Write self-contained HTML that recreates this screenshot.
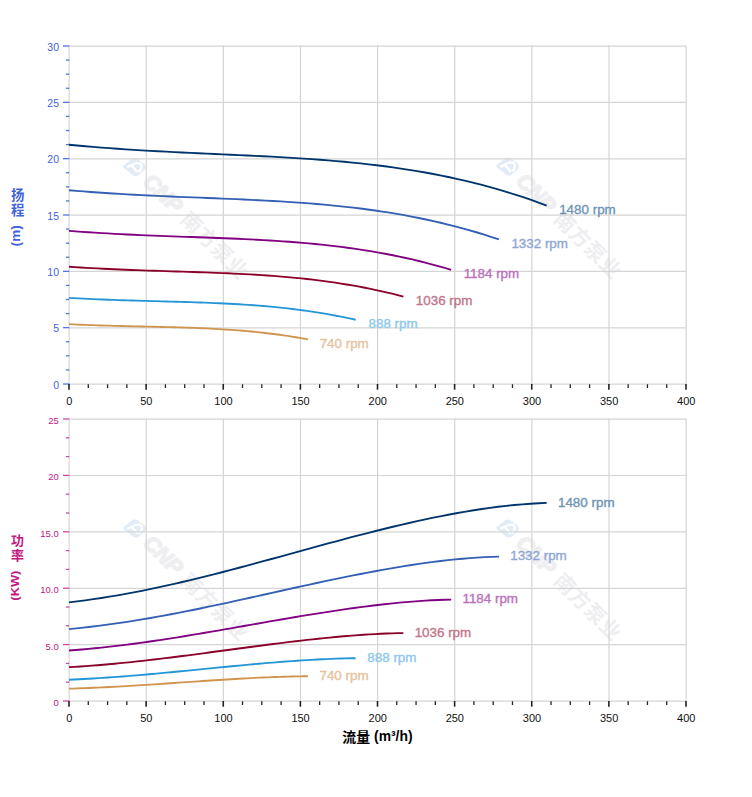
<!DOCTYPE html>
<html><head><meta charset="utf-8"><title>chart</title>
<style>html,body{margin:0;padding:0;background:#fff}svg{display:block}text{font-family:"Liberation Sans","Noto Sans CJK SC",sans-serif}</style></head><body>
<svg width="752" height="797" viewBox="0 0 752 797">
<rect width="752" height="797" fill="#fff"/>
<g transform="translate(134.0,167.0) rotate(45)">
</g>
<g transform="translate(0.25,0.00)">
<path d="M122,166.6 L131.3,159 Q134,157.3 137,158.9 L143.6,163.4 Q146.6,166.6 144.4,169.8 L138,175.2 Q135,177 132.2,175 Z" fill="#e1ecf7"/>
<g fill="none" stroke="#fff" stroke-width="2.4" stroke-linecap="butt"><path d="M126.8,167.3 L133.8,164"/><path d="M131.2,165.2 L137.2,172.3"/><path d="M134,163.7 Q141.6,161.8 141.2,166.6 Q141,170.2 138.3,171.8"/></g>
</g>
<g transform="translate(134.0,167.0) rotate(45)">
<text x="16.5" y="5.6" font-size="21.5" font-weight="bold" font-style="italic" fill="#efeff2" stroke="#efeff2" stroke-width="1.7" stroke-linejoin="round">CNP</text>
<text x="69.7" y="5.8" font-size="20.6" font-weight="bold" letter-spacing="0.8" fill="#eeeef1">南方泵业</text>
</g>
<g transform="translate(507.3,166.5) rotate(45)">
</g>
<g transform="translate(373.55,-0.50)">
<path d="M122,166.6 L131.3,159 Q134,157.3 137,158.9 L143.6,163.4 Q146.6,166.6 144.4,169.8 L138,175.2 Q135,177 132.2,175 Z" fill="#e1ecf7"/>
<g fill="none" stroke="#fff" stroke-width="2.4" stroke-linecap="butt"><path d="M126.8,167.3 L133.8,164"/><path d="M131.2,165.2 L137.2,172.3"/><path d="M134,163.7 Q141.6,161.8 141.2,166.6 Q141,170.2 138.3,171.8"/></g>
</g>
<g transform="translate(507.3,166.5) rotate(45)">
<text x="16.5" y="5.6" font-size="21.5" font-weight="bold" font-style="italic" fill="#efeff2" stroke="#efeff2" stroke-width="1.7" stroke-linejoin="round">CNP</text>
<text x="69.7" y="5.8" font-size="20.6" font-weight="bold" letter-spacing="0.8" fill="#eeeef1">南方泵业</text>
</g>
<g transform="translate(134.3,528.5) rotate(45)">
</g>
<g transform="translate(0.55,361.50)">
<path d="M122,166.6 L131.3,159 Q134,157.3 137,158.9 L143.6,163.4 Q146.6,166.6 144.4,169.8 L138,175.2 Q135,177 132.2,175 Z" fill="#e1ecf7"/>
<g fill="none" stroke="#fff" stroke-width="2.4" stroke-linecap="butt"><path d="M126.8,167.3 L133.8,164"/><path d="M131.2,165.2 L137.2,172.3"/><path d="M134,163.7 Q141.6,161.8 141.2,166.6 Q141,170.2 138.3,171.8"/></g>
</g>
<g transform="translate(134.3,528.5) rotate(45)">
<text x="16.5" y="5.6" font-size="21.5" font-weight="bold" font-style="italic" fill="#efeff2" stroke="#efeff2" stroke-width="1.7" stroke-linejoin="round">CNP</text>
<text x="69.7" y="5.8" font-size="20.6" font-weight="bold" letter-spacing="0.8" fill="#eeeef1">南方泵业</text>
</g>
<g transform="translate(507.3,528.5) rotate(45)">
</g>
<g transform="translate(373.55,361.50)">
<path d="M122,166.6 L131.3,159 Q134,157.3 137,158.9 L143.6,163.4 Q146.6,166.6 144.4,169.8 L138,175.2 Q135,177 132.2,175 Z" fill="#e1ecf7"/>
<g fill="none" stroke="#fff" stroke-width="2.4" stroke-linecap="butt"><path d="M126.8,167.3 L133.8,164"/><path d="M131.2,165.2 L137.2,172.3"/><path d="M134,163.7 Q141.6,161.8 141.2,166.6 Q141,170.2 138.3,171.8"/></g>
</g>
<g transform="translate(507.3,528.5) rotate(45)">
<text x="16.5" y="5.6" font-size="21.5" font-weight="bold" font-style="italic" fill="#efeff2" stroke="#efeff2" stroke-width="1.7" stroke-linejoin="round">CNP</text>
<text x="69.7" y="5.8" font-size="20.6" font-weight="bold" letter-spacing="0.8" fill="#eeeef1">南方泵业</text>
</g>
<g stroke="#d5d5d5" stroke-width="1.2" fill="none" shape-rendering="auto">
<line x1="69.12" y1="45.50" x2="69.12" y2="384.70"/>
<line x1="69.12" y1="418.50" x2="69.12" y2="701.70"/>
<line x1="146.25" y1="45.50" x2="146.25" y2="384.70"/>
<line x1="146.25" y1="418.50" x2="146.25" y2="701.70"/>
<line x1="223.37" y1="45.50" x2="223.37" y2="384.70"/>
<line x1="223.37" y1="418.50" x2="223.37" y2="701.70"/>
<line x1="300.50" y1="45.50" x2="300.50" y2="384.70"/>
<line x1="300.50" y1="418.50" x2="300.50" y2="701.70"/>
<line x1="377.62" y1="45.50" x2="377.62" y2="384.70"/>
<line x1="377.62" y1="418.50" x2="377.62" y2="701.70"/>
<line x1="454.75" y1="45.50" x2="454.75" y2="384.70"/>
<line x1="454.75" y1="418.50" x2="454.75" y2="701.70"/>
<line x1="531.87" y1="45.50" x2="531.87" y2="384.70"/>
<line x1="531.87" y1="418.50" x2="531.87" y2="701.70"/>
<line x1="609.00" y1="45.50" x2="609.00" y2="384.70"/>
<line x1="609.00" y1="418.50" x2="609.00" y2="701.70"/>
<line x1="686.12" y1="45.50" x2="686.12" y2="384.70"/>
<line x1="686.12" y1="418.50" x2="686.12" y2="701.70"/>
<line x1="69.00" y1="384.12" x2="686.00" y2="384.12"/>
<line x1="69.00" y1="327.79" x2="686.00" y2="327.79"/>
<line x1="69.00" y1="271.45" x2="686.00" y2="271.45"/>
<line x1="69.00" y1="215.12" x2="686.00" y2="215.12"/>
<line x1="69.00" y1="158.79" x2="686.00" y2="158.79"/>
<line x1="69.00" y1="102.45" x2="686.00" y2="102.45"/>
<line x1="69.00" y1="46.12" x2="686.00" y2="46.12"/>
<line x1="69.00" y1="701.12" x2="686.00" y2="701.12"/>
<line x1="69.00" y1="644.72" x2="686.00" y2="644.72"/>
<line x1="69.00" y1="588.32" x2="686.00" y2="588.32"/>
<line x1="69.00" y1="531.92" x2="686.00" y2="531.92"/>
<line x1="69.00" y1="475.52" x2="686.00" y2="475.52"/>
<line x1="69.00" y1="419.12" x2="686.00" y2="419.12"/>
</g>
<g stroke="#4a6fe0" stroke-width="1.25">
<line x1="63.00" y1="384.00" x2="69.30" y2="384.00"/>
<line x1="66.00" y1="369.92" x2="69.30" y2="369.92"/>
<line x1="66.00" y1="355.83" x2="69.30" y2="355.83"/>
<line x1="66.00" y1="341.75" x2="69.30" y2="341.75"/>
<line x1="63.00" y1="327.67" x2="69.30" y2="327.67"/>
<line x1="66.00" y1="313.58" x2="69.30" y2="313.58"/>
<line x1="66.00" y1="299.50" x2="69.30" y2="299.50"/>
<line x1="66.00" y1="285.42" x2="69.30" y2="285.42"/>
<line x1="63.00" y1="271.33" x2="69.30" y2="271.33"/>
<line x1="66.00" y1="257.25" x2="69.30" y2="257.25"/>
<line x1="66.00" y1="243.17" x2="69.30" y2="243.17"/>
<line x1="66.00" y1="229.08" x2="69.30" y2="229.08"/>
<line x1="63.00" y1="215.00" x2="69.30" y2="215.00"/>
<line x1="66.00" y1="200.92" x2="69.30" y2="200.92"/>
<line x1="66.00" y1="186.83" x2="69.30" y2="186.83"/>
<line x1="66.00" y1="172.75" x2="69.30" y2="172.75"/>
<line x1="63.00" y1="158.67" x2="69.30" y2="158.67"/>
<line x1="66.00" y1="144.58" x2="69.30" y2="144.58"/>
<line x1="66.00" y1="130.50" x2="69.30" y2="130.50"/>
<line x1="66.00" y1="116.42" x2="69.30" y2="116.42"/>
<line x1="63.00" y1="102.33" x2="69.30" y2="102.33"/>
<line x1="66.00" y1="88.25" x2="69.30" y2="88.25"/>
<line x1="66.00" y1="74.17" x2="69.30" y2="74.17"/>
<line x1="66.00" y1="60.08" x2="69.30" y2="60.08"/>
<line x1="63.00" y1="46.00" x2="69.30" y2="46.00"/>
</g>
<g stroke="#d4419f" stroke-width="1.25">
<line x1="63.00" y1="701.00" x2="69.30" y2="701.00"/>
<line x1="66.00" y1="682.20" x2="69.30" y2="682.20"/>
<line x1="66.00" y1="663.40" x2="69.30" y2="663.40"/>
<line x1="63.00" y1="644.60" x2="69.30" y2="644.60"/>
<line x1="66.00" y1="625.80" x2="69.30" y2="625.80"/>
<line x1="66.00" y1="607.00" x2="69.30" y2="607.00"/>
<line x1="63.00" y1="588.20" x2="69.30" y2="588.20"/>
<line x1="66.00" y1="569.40" x2="69.30" y2="569.40"/>
<line x1="66.00" y1="550.60" x2="69.30" y2="550.60"/>
<line x1="63.00" y1="531.80" x2="69.30" y2="531.80"/>
<line x1="66.00" y1="513.00" x2="69.30" y2="513.00"/>
<line x1="66.00" y1="494.20" x2="69.30" y2="494.20"/>
<line x1="63.00" y1="475.40" x2="69.30" y2="475.40"/>
<line x1="66.00" y1="456.60" x2="69.30" y2="456.60"/>
<line x1="66.00" y1="437.80" x2="69.30" y2="437.80"/>
<line x1="63.00" y1="419.00" x2="69.30" y2="419.00"/>
</g>
<g stroke="#222">
<line x1="69.00" y1="384.00" x2="69.00" y2="389.70" stroke-width="1.6"/>
<line x1="88.28" y1="384.30" x2="88.28" y2="388.00" stroke-width="1.3"/>
<line x1="107.56" y1="384.30" x2="107.56" y2="388.00" stroke-width="1.3"/>
<line x1="126.84" y1="384.30" x2="126.84" y2="388.00" stroke-width="1.3"/>
<line x1="146.12" y1="384.00" x2="146.12" y2="389.70" stroke-width="1.6"/>
<line x1="165.41" y1="384.30" x2="165.41" y2="388.00" stroke-width="1.3"/>
<line x1="184.69" y1="384.30" x2="184.69" y2="388.00" stroke-width="1.3"/>
<line x1="203.97" y1="384.30" x2="203.97" y2="388.00" stroke-width="1.3"/>
<line x1="223.25" y1="384.00" x2="223.25" y2="389.70" stroke-width="1.6"/>
<line x1="242.53" y1="384.30" x2="242.53" y2="388.00" stroke-width="1.3"/>
<line x1="261.81" y1="384.30" x2="261.81" y2="388.00" stroke-width="1.3"/>
<line x1="281.09" y1="384.30" x2="281.09" y2="388.00" stroke-width="1.3"/>
<line x1="300.38" y1="384.00" x2="300.38" y2="389.70" stroke-width="1.6"/>
<line x1="319.66" y1="384.30" x2="319.66" y2="388.00" stroke-width="1.3"/>
<line x1="338.94" y1="384.30" x2="338.94" y2="388.00" stroke-width="1.3"/>
<line x1="358.22" y1="384.30" x2="358.22" y2="388.00" stroke-width="1.3"/>
<line x1="377.50" y1="384.00" x2="377.50" y2="389.70" stroke-width="1.6"/>
<line x1="396.78" y1="384.30" x2="396.78" y2="388.00" stroke-width="1.3"/>
<line x1="416.06" y1="384.30" x2="416.06" y2="388.00" stroke-width="1.3"/>
<line x1="435.34" y1="384.30" x2="435.34" y2="388.00" stroke-width="1.3"/>
<line x1="454.62" y1="384.00" x2="454.62" y2="389.70" stroke-width="1.6"/>
<line x1="473.91" y1="384.30" x2="473.91" y2="388.00" stroke-width="1.3"/>
<line x1="493.19" y1="384.30" x2="493.19" y2="388.00" stroke-width="1.3"/>
<line x1="512.47" y1="384.30" x2="512.47" y2="388.00" stroke-width="1.3"/>
<line x1="531.75" y1="384.00" x2="531.75" y2="389.70" stroke-width="1.6"/>
<line x1="551.03" y1="384.30" x2="551.03" y2="388.00" stroke-width="1.3"/>
<line x1="570.31" y1="384.30" x2="570.31" y2="388.00" stroke-width="1.3"/>
<line x1="589.59" y1="384.30" x2="589.59" y2="388.00" stroke-width="1.3"/>
<line x1="608.88" y1="384.00" x2="608.88" y2="389.70" stroke-width="1.6"/>
<line x1="628.16" y1="384.30" x2="628.16" y2="388.00" stroke-width="1.3"/>
<line x1="647.44" y1="384.30" x2="647.44" y2="388.00" stroke-width="1.3"/>
<line x1="666.72" y1="384.30" x2="666.72" y2="388.00" stroke-width="1.3"/>
<line x1="686.00" y1="384.00" x2="686.00" y2="389.70" stroke-width="1.6"/>
<line x1="69.00" y1="701.00" x2="69.00" y2="706.70" stroke-width="1.6"/>
<line x1="88.28" y1="701.30" x2="88.28" y2="705.00" stroke-width="1.3"/>
<line x1="107.56" y1="701.30" x2="107.56" y2="705.00" stroke-width="1.3"/>
<line x1="126.84" y1="701.30" x2="126.84" y2="705.00" stroke-width="1.3"/>
<line x1="146.12" y1="701.00" x2="146.12" y2="706.70" stroke-width="1.6"/>
<line x1="165.41" y1="701.30" x2="165.41" y2="705.00" stroke-width="1.3"/>
<line x1="184.69" y1="701.30" x2="184.69" y2="705.00" stroke-width="1.3"/>
<line x1="203.97" y1="701.30" x2="203.97" y2="705.00" stroke-width="1.3"/>
<line x1="223.25" y1="701.00" x2="223.25" y2="706.70" stroke-width="1.6"/>
<line x1="242.53" y1="701.30" x2="242.53" y2="705.00" stroke-width="1.3"/>
<line x1="261.81" y1="701.30" x2="261.81" y2="705.00" stroke-width="1.3"/>
<line x1="281.09" y1="701.30" x2="281.09" y2="705.00" stroke-width="1.3"/>
<line x1="300.38" y1="701.00" x2="300.38" y2="706.70" stroke-width="1.6"/>
<line x1="319.66" y1="701.30" x2="319.66" y2="705.00" stroke-width="1.3"/>
<line x1="338.94" y1="701.30" x2="338.94" y2="705.00" stroke-width="1.3"/>
<line x1="358.22" y1="701.30" x2="358.22" y2="705.00" stroke-width="1.3"/>
<line x1="377.50" y1="701.00" x2="377.50" y2="706.70" stroke-width="1.6"/>
<line x1="396.78" y1="701.30" x2="396.78" y2="705.00" stroke-width="1.3"/>
<line x1="416.06" y1="701.30" x2="416.06" y2="705.00" stroke-width="1.3"/>
<line x1="435.34" y1="701.30" x2="435.34" y2="705.00" stroke-width="1.3"/>
<line x1="454.62" y1="701.00" x2="454.62" y2="706.70" stroke-width="1.6"/>
<line x1="473.91" y1="701.30" x2="473.91" y2="705.00" stroke-width="1.3"/>
<line x1="493.19" y1="701.30" x2="493.19" y2="705.00" stroke-width="1.3"/>
<line x1="512.47" y1="701.30" x2="512.47" y2="705.00" stroke-width="1.3"/>
<line x1="531.75" y1="701.00" x2="531.75" y2="706.70" stroke-width="1.6"/>
<line x1="551.03" y1="701.30" x2="551.03" y2="705.00" stroke-width="1.3"/>
<line x1="570.31" y1="701.30" x2="570.31" y2="705.00" stroke-width="1.3"/>
<line x1="589.59" y1="701.30" x2="589.59" y2="705.00" stroke-width="1.3"/>
<line x1="608.88" y1="701.00" x2="608.88" y2="706.70" stroke-width="1.6"/>
<line x1="628.16" y1="701.30" x2="628.16" y2="705.00" stroke-width="1.3"/>
<line x1="647.44" y1="701.30" x2="647.44" y2="705.00" stroke-width="1.3"/>
<line x1="666.72" y1="701.30" x2="666.72" y2="705.00" stroke-width="1.3"/>
<line x1="686.00" y1="701.00" x2="686.00" y2="706.70" stroke-width="1.6"/>
</g>
<g font-size="10.5" fill="#3f63dd" text-anchor="end">
<text x="59.0" y="388.70">0</text>
<text x="59.0" y="332.37">5</text>
<text x="59.0" y="276.03">10</text>
<text x="59.0" y="219.70">15</text>
<text x="59.0" y="163.37">20</text>
<text x="59.0" y="107.03">25</text>
<text x="59.0" y="50.70">30</text>
</g>
<g font-size="9.5" fill="#c2187f" text-anchor="end">
<text x="58.8" y="705.90">0</text>
<text x="58.8" y="649.50">5.0</text>
<text x="58.8" y="593.10">10.0</text>
<text x="58.8" y="536.70">15.0</text>
<text x="58.8" y="480.30">20</text>
<text x="58.8" y="423.90">25</text>
</g>
<g font-size="11" fill="#111" text-anchor="middle">
<text x="69.20" y="405.2">0</text>
<text x="69.20" y="722.2">0</text>
<text x="146.32" y="405.2">50</text>
<text x="146.32" y="722.2">50</text>
<text x="223.45" y="405.2">100</text>
<text x="223.45" y="722.2">100</text>
<text x="300.57" y="405.2">150</text>
<text x="300.57" y="722.2">150</text>
<text x="377.70" y="405.2">200</text>
<text x="377.70" y="722.2">200</text>
<text x="454.82" y="405.2">250</text>
<text x="454.82" y="722.2">250</text>
<text x="531.95" y="405.2">300</text>
<text x="531.95" y="722.2">300</text>
<text x="609.08" y="405.2">350</text>
<text x="609.08" y="722.2">350</text>
<text x="686.20" y="405.2">400</text>
<text x="686.20" y="722.2">400</text>
</g>
<g fill="none" stroke-width="1.85" stroke-linecap="butt" stroke-linejoin="round">
<path stroke="#00356b" d="M69.00,144.77 L77.10,145.52 L85.19,146.24 L93.29,146.93 L101.39,147.58 L109.48,148.19 L117.58,148.77 L125.68,149.33 L133.77,149.85 L141.87,150.35 L149.97,150.82 L158.06,151.27 L166.16,151.70 L174.26,152.11 L182.35,152.51 L190.45,152.89 L198.55,153.27 L206.64,153.63 L214.74,154.00 L222.84,154.36 L230.93,154.72 L239.03,155.09 L247.13,155.46 L255.22,155.85 L263.32,156.25 L271.42,156.67 L279.51,157.11 L287.61,157.57 L295.71,158.06 L303.80,158.59 L311.90,159.14 L319.99,159.74 L328.09,160.38 L336.19,161.06 L344.28,161.79 L352.38,162.57 L360.48,163.41 L368.57,164.30 L376.67,165.26 L384.77,166.29 L392.86,167.38 L400.96,168.55 L409.06,169.79 L417.15,171.11 L425.25,172.52 L433.35,174.01 L441.44,175.59 L449.54,177.27 L457.64,179.03 L465.73,180.90 L473.83,182.87 L481.93,184.94 L490.02,187.12 L498.12,189.41 L506.22,191.81 L514.31,194.32 L522.41,196.95 L530.51,199.70 L538.60,202.57 L546.70,205.57"/>
<path stroke="#00356b" d="M69.00,602.43 L77.10,601.42 L85.19,600.35 L93.29,599.20 L101.39,597.97 L109.48,596.68 L117.58,595.31 L125.68,593.87 L133.77,592.36 L141.87,590.79 L149.97,589.15 L158.06,587.45 L166.16,585.69 L174.26,583.88 L182.35,582.01 L190.45,580.09 L198.55,578.13 L206.64,576.12 L214.74,574.08 L222.84,572.00 L230.93,569.89 L239.03,567.75 L247.13,565.59 L255.22,563.40 L263.32,561.20 L271.42,558.99 L279.51,556.77 L287.61,554.54 L295.71,552.31 L303.80,550.09 L311.90,547.87 L319.99,545.66 L328.09,543.46 L336.19,541.28 L344.28,539.12 L352.38,536.98 L360.48,534.87 L368.57,532.79 L376.67,530.74 L384.77,528.74 L392.86,526.77 L400.96,524.85 L409.06,522.98 L417.15,521.16 L425.25,519.40 L433.35,517.69 L441.44,516.06 L449.54,514.49 L457.64,512.99 L465.73,511.58 L473.83,510.24 L481.93,509.00 L490.02,507.84 L498.12,506.79 L506.22,505.84 L514.31,505.01 L522.41,504.30 L530.51,503.71 L538.60,503.25 L546.70,502.94"/>
<path stroke="#335fb4" d="M69.00,190.22 L76.29,190.84 L83.57,191.42 L90.86,191.97 L98.15,192.50 L105.43,192.99 L112.72,193.47 L120.01,193.91 L127.30,194.34 L134.58,194.74 L141.87,195.12 L149.16,195.49 L156.44,195.84 L163.73,196.17 L171.02,196.49 L178.30,196.80 L185.59,197.11 L192.88,197.40 L200.17,197.70 L207.45,197.99 L214.74,198.28 L222.03,198.58 L229.31,198.89 L236.60,199.20 L243.89,199.52 L251.17,199.86 L258.46,200.22 L265.75,200.59 L273.03,200.99 L280.32,201.42 L287.61,201.87 L294.90,202.35 L302.18,202.86 L309.47,203.42 L316.76,204.01 L324.04,204.64 L331.33,205.32 L338.62,206.05 L345.90,206.82 L353.19,207.65 L360.48,208.54 L367.76,209.48 L375.05,210.49 L382.34,211.56 L389.63,212.70 L396.91,213.91 L404.20,215.19 L411.49,216.54 L418.77,217.98 L426.06,219.49 L433.35,221.08 L440.63,222.76 L447.92,224.53 L455.21,226.38 L462.50,228.32 L469.78,230.36 L477.07,232.49 L484.36,234.72 L491.64,237.05 L498.93,239.47"/>
<path stroke="#335fb4" d="M69.00,629.14 L76.29,628.41 L83.57,627.62 L90.86,626.78 L98.15,625.89 L105.43,624.95 L112.72,623.95 L120.01,622.90 L127.30,621.80 L134.58,620.65 L141.87,619.46 L149.16,618.22 L156.44,616.94 L163.73,615.62 L171.02,614.26 L178.30,612.86 L185.59,611.43 L192.88,609.97 L200.17,608.48 L207.45,606.96 L214.74,605.42 L222.03,603.86 L229.31,602.28 L236.60,600.69 L243.89,599.09 L251.17,597.48 L258.46,595.86 L265.75,594.23 L273.03,592.61 L280.32,590.99 L287.61,589.37 L294.90,587.75 L302.18,586.15 L309.47,584.56 L316.76,582.99 L324.04,581.43 L331.33,579.89 L338.62,578.37 L345.90,576.88 L353.19,575.42 L360.48,573.99 L367.76,572.59 L375.05,571.22 L382.34,569.90 L389.63,568.61 L396.91,567.37 L404.20,566.18 L411.49,565.03 L418.77,563.94 L426.06,562.91 L433.35,561.94 L440.63,561.03 L447.92,560.19 L455.21,559.42 L462.50,558.73 L469.78,558.12 L477.07,557.60 L484.36,557.17 L491.64,556.84 L498.93,556.62"/>
<path stroke="#800080" d="M69.00,230.89 L75.48,231.38 L81.95,231.84 L88.43,232.27 L94.91,232.69 L101.39,233.08 L107.86,233.45 L114.34,233.81 L120.82,234.14 L127.30,234.46 L133.77,234.76 L140.25,235.05 L146.73,235.33 L153.20,235.59 L159.68,235.84 L166.16,236.09 L172.64,236.33 L179.11,236.57 L185.59,236.80 L192.07,237.03 L198.55,237.26 L205.02,237.50 L211.50,237.74 L217.98,237.98 L224.45,238.24 L230.93,238.51 L237.41,238.79 L243.89,239.09 L250.36,239.40 L256.84,239.74 L263.32,240.09 L269.80,240.47 L276.27,240.88 L282.75,241.32 L289.23,241.78 L295.71,242.28 L302.18,242.82 L308.66,243.39 L315.14,244.01 L321.61,244.66 L328.09,245.36 L334.57,246.11 L341.05,246.91 L347.52,247.75 L354.00,248.65 L360.48,249.61 L366.96,250.62 L373.43,251.69 L379.91,252.82 L386.39,254.02 L392.86,255.28 L399.34,256.60 L405.82,258.00 L412.30,259.46 L418.77,261.00 L425.25,262.60 L431.73,264.29 L438.21,266.05 L444.68,267.89 L451.16,269.80"/>
<path stroke="#800080" d="M69.00,650.53 L75.48,650.02 L81.95,649.47 L88.43,648.88 L94.91,648.25 L101.39,647.59 L107.86,646.89 L114.34,646.15 L120.82,645.38 L127.30,644.57 L133.77,643.73 L140.25,642.86 L146.73,641.96 L153.20,641.03 L159.68,640.08 L166.16,639.10 L172.64,638.09 L179.11,637.06 L185.59,636.02 L192.07,634.95 L198.55,633.87 L205.02,632.78 L211.50,631.67 L217.98,630.55 L224.45,629.42 L230.93,628.29 L237.41,627.15 L243.89,626.01 L250.36,624.87 L256.84,623.73 L263.32,622.60 L269.80,621.46 L276.27,620.34 L282.75,619.22 L289.23,618.12 L295.71,617.02 L302.18,615.94 L308.66,614.88 L315.14,613.83 L321.61,612.80 L328.09,611.79 L334.57,610.81 L341.05,609.85 L347.52,608.92 L354.00,608.02 L360.48,607.15 L366.96,606.31 L373.43,605.51 L379.91,604.74 L386.39,604.01 L392.86,603.33 L399.34,602.69 L405.82,602.10 L412.30,601.57 L418.77,601.08 L425.25,600.65 L431.73,600.29 L438.21,599.99 L444.68,599.75 L451.16,599.59"/>
<path stroke="#8b0028" d="M69.00,266.78 L74.67,267.15 L80.34,267.50 L86.00,267.83 L91.67,268.15 L97.34,268.45 L103.01,268.74 L108.67,269.01 L114.34,269.27 L120.01,269.51 L125.68,269.74 L131.34,269.96 L137.01,270.17 L142.68,270.37 L148.35,270.57 L154.01,270.76 L159.68,270.94 L165.35,271.12 L171.02,271.30 L176.68,271.48 L182.35,271.65 L188.02,271.83 L193.69,272.02 L199.36,272.21 L205.02,272.40 L210.69,272.61 L216.36,272.82 L222.03,273.05 L227.69,273.29 L233.36,273.55 L239.03,273.82 L244.70,274.11 L250.36,274.42 L256.03,274.76 L261.70,275.12 L267.37,275.50 L273.03,275.91 L278.70,276.35 L284.37,276.82 L290.04,277.32 L295.71,277.86 L301.37,278.43 L307.04,279.04 L312.71,279.69 L318.38,280.37 L324.04,281.11 L329.71,281.88 L335.38,282.70 L341.05,283.57 L346.71,284.48 L352.38,285.44 L358.05,286.46 L363.72,287.53 L369.38,288.65 L375.05,289.82 L380.72,291.06 L386.39,292.35 L392.05,293.69 L397.72,295.10 L403.39,296.57"/>
<path stroke="#8b0028" d="M69.00,667.19 L74.67,666.84 L80.34,666.48 L86.00,666.08 L91.67,665.66 L97.34,665.22 L103.01,664.75 L108.67,664.25 L114.34,663.74 L120.01,663.20 L125.68,662.64 L131.34,662.05 L137.01,661.45 L142.68,660.83 L148.35,660.19 L154.01,659.53 L159.68,658.86 L165.35,658.17 L171.02,657.47 L176.68,656.75 L182.35,656.03 L188.02,655.30 L193.69,654.55 L199.36,653.80 L205.02,653.05 L210.69,652.29 L216.36,651.53 L222.03,650.77 L227.69,650.00 L233.36,649.24 L239.03,648.48 L244.70,647.72 L250.36,646.96 L256.03,646.22 L261.70,645.47 L267.37,644.74 L273.03,644.02 L278.70,643.30 L284.37,642.60 L290.04,641.91 L295.71,641.24 L301.37,640.58 L307.04,639.94 L312.71,639.31 L318.38,638.71 L324.04,638.13 L329.71,637.56 L335.38,637.03 L341.05,636.51 L346.71,636.03 L352.38,635.57 L358.05,635.14 L363.72,634.75 L369.38,634.39 L375.05,634.06 L380.72,633.78 L386.39,633.53 L392.05,633.33 L397.72,633.17 L403.39,633.07"/>
<path stroke="#2496d8" d="M69.00,297.88 L73.86,298.15 L78.72,298.41 L83.57,298.65 L88.43,298.89 L93.29,299.11 L98.15,299.32 L103.01,299.52 L107.86,299.71 L112.72,299.88 L117.58,300.05 L122.44,300.22 L127.30,300.37 L132.15,300.52 L137.01,300.66 L141.87,300.80 L146.73,300.94 L151.59,301.07 L156.44,301.20 L161.30,301.33 L166.16,301.46 L171.02,301.59 L175.88,301.73 L180.73,301.87 L185.59,302.01 L190.45,302.16 L195.31,302.32 L200.17,302.49 L205.02,302.66 L209.88,302.85 L214.74,303.05 L219.60,303.27 L224.45,303.50 L229.31,303.74 L234.17,304.00 L239.03,304.28 L243.89,304.59 L248.74,304.91 L253.60,305.25 L258.46,305.62 L263.32,306.02 L268.18,306.44 L273.03,306.89 L277.89,307.36 L282.75,307.87 L287.61,308.40 L292.47,308.97 L297.32,309.58 L302.18,310.21 L307.04,310.88 L311.90,311.59 L316.76,312.34 L321.61,313.12 L326.47,313.95 L331.33,314.81 L336.19,315.72 L341.05,316.66 L345.90,317.65 L350.76,318.69 L355.62,319.77"/>
<path stroke="#2496d8" d="M69.00,679.71 L73.86,679.49 L78.72,679.26 L83.57,679.01 L88.43,678.75 L93.29,678.47 L98.15,678.17 L103.01,677.86 L107.86,677.53 L112.72,677.19 L117.58,676.84 L122.44,676.47 L127.30,676.09 L132.15,675.70 L137.01,675.30 L141.87,674.88 L146.73,674.46 L151.59,674.03 L156.44,673.59 L161.30,673.14 L166.16,672.68 L171.02,672.22 L175.88,671.75 L180.73,671.28 L185.59,670.80 L190.45,670.33 L195.31,669.85 L200.17,669.37 L205.02,668.88 L209.88,668.40 L214.74,667.92 L219.60,667.45 L224.45,666.97 L229.31,666.50 L234.17,666.03 L239.03,665.57 L243.89,665.12 L248.74,664.67 L253.60,664.22 L258.46,663.79 L263.32,663.37 L268.18,662.95 L273.03,662.55 L277.89,662.15 L282.75,661.77 L287.61,661.41 L292.47,661.05 L297.32,660.71 L302.18,660.39 L307.04,660.08 L311.90,659.80 L316.76,659.53 L321.61,659.28 L326.47,659.05 L331.33,658.85 L336.19,658.67 L341.05,658.51 L345.90,658.38 L350.76,658.29 L355.62,658.22"/>
<path stroke="#d0944e" d="M69.00,324.19 L73.05,324.38 L77.10,324.56 L81.14,324.73 L85.19,324.89 L89.24,325.05 L93.29,325.19 L97.34,325.33 L101.39,325.46 L105.43,325.59 L109.48,325.70 L113.53,325.82 L117.58,325.92 L121.63,326.03 L125.68,326.13 L129.72,326.22 L133.77,326.32 L137.82,326.41 L141.87,326.50 L145.92,326.59 L149.97,326.68 L154.01,326.77 L158.06,326.87 L162.11,326.96 L166.16,327.06 L170.21,327.17 L174.26,327.28 L178.30,327.39 L182.35,327.52 L186.40,327.65 L190.45,327.79 L194.50,327.93 L198.55,328.09 L202.59,328.26 L206.64,328.45 L210.69,328.64 L214.74,328.85 L218.79,329.08 L222.84,329.32 L226.88,329.57 L230.93,329.85 L234.98,330.14 L239.03,330.45 L243.08,330.78 L247.13,331.13 L251.17,331.50 L255.22,331.90 L259.27,332.32 L263.32,332.76 L267.37,333.22 L271.42,333.72 L275.46,334.23 L279.51,334.78 L283.56,335.35 L287.61,335.95 L291.66,336.58 L295.71,337.24 L299.75,337.93 L303.80,338.64 L307.85,339.39"/>
<path stroke="#d0944e" d="M69.00,688.68 L73.05,688.55 L77.10,688.42 L81.14,688.27 L85.19,688.12 L89.24,687.96 L93.29,687.79 L97.34,687.61 L101.39,687.42 L105.43,687.22 L109.48,687.02 L113.53,686.81 L117.58,686.59 L121.63,686.36 L125.68,686.13 L129.72,685.89 L133.77,685.64 L137.82,685.39 L141.87,685.13 L145.92,684.88 L149.97,684.61 L154.01,684.34 L158.06,684.07 L162.11,683.80 L166.16,683.53 L170.21,683.25 L174.26,682.97 L178.30,682.69 L182.35,682.41 L186.40,682.14 L190.45,681.86 L194.50,681.58 L198.55,681.31 L202.59,681.03 L206.64,680.76 L210.69,680.50 L214.74,680.23 L218.79,679.97 L222.84,679.72 L226.88,679.47 L230.93,679.22 L234.98,678.98 L239.03,678.75 L243.08,678.52 L247.13,678.30 L251.17,678.09 L255.22,677.88 L259.27,677.69 L263.32,677.50 L267.37,677.32 L271.42,677.16 L275.46,677.00 L279.51,676.86 L283.56,676.72 L287.61,676.61 L291.66,676.50 L295.71,676.41 L299.75,676.34 L303.80,676.28 L307.85,676.24"/>
</g>
<g font-size="13.4" stroke-width="0.35">
<text x="559.18" y="214.07" fill="#6d93b5" stroke="#6d93b5">1480 rpm</text>
<text x="557.98" y="506.74" fill="#6d93b5" stroke="#6d93b5">1480 rpm</text>
<text x="511.41" y="247.97" fill="#8ea6d6" stroke="#8ea6d6">1332 rpm</text>
<text x="510.21" y="560.42" fill="#8ea6d6" stroke="#8ea6d6">1332 rpm</text>
<text x="463.64" y="278.30" fill="#bb6fbb" stroke="#bb6fbb">1184 rpm</text>
<text x="462.44" y="603.39" fill="#bb6fbb" stroke="#bb6fbb">1184 rpm</text>
<text x="415.87" y="305.07" fill="#c0758a" stroke="#c0758a">1036 rpm</text>
<text x="414.67" y="636.87" fill="#c0758a" stroke="#c0758a">1036 rpm</text>
<text x="368.53" y="328.27" fill="#8cc8ec" stroke="#8cc8ec">888 rpm</text>
<text x="367.33" y="662.02" fill="#8cc8ec" stroke="#8cc8ec">888 rpm</text>
<text x="319.66" y="347.89" fill="#e6c39d" stroke="#e6c39d">740 rpm</text>
<text x="319.46" y="680.04" fill="#e6c39d" stroke="#e6c39d">740 rpm</text>
</g>
<text x="10.9" y="200.4" font-size="13.4" font-weight="bold" fill="#3f63dd">扬</text>
<text x="10.9" y="215.3" font-size="13.4" font-weight="bold" fill="#3f63dd">程</text>
<text transform="translate(20.10,225.30) rotate(-90) scale(1.02,1)" font-size="13.3" font-weight="bold" fill="#3f63dd" text-anchor="end">(m)</text>
<text x="11" y="544.9" font-size="13" font-weight="bold" fill="#c2187f">功</text>
<text x="11" y="559.9" font-size="13" font-weight="bold" fill="#c2187f">率</text>
<text transform="translate(19.30,570.60) rotate(-90) scale(1.075,0.88)" font-size="12" font-weight="bold" fill="#c2187f" text-anchor="end">(KW)</text>
<text x="342.3" y="741.6" font-size="13.9" font-weight="bold" letter-spacing="0.1" fill="#000">流量</text>
<text x="374.0" y="740.7" font-size="13.9" font-weight="bold" fill="#000">(m³/h)</text>
</svg></body></html>
